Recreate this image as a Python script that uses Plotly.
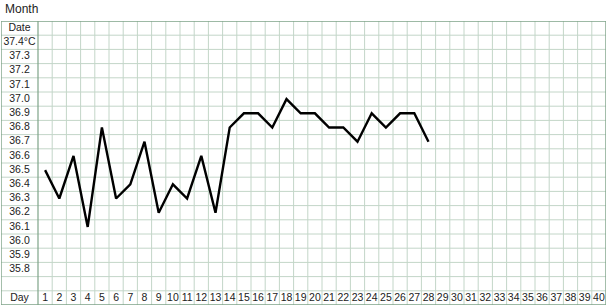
import plotly.graph_objects as go

days = list(range(1, 29))
temps = [36.5, 36.3, 36.6, 36.1, 36.8, 36.3, 36.4, 36.7, 36.2, 36.4,
         36.3, 36.6, 36.2, 36.8, 36.9, 36.9, 36.8, 37.0, 36.9, 36.9,
         36.8, 36.8, 36.7, 36.9, 36.8, 36.9, 36.9, 36.7]
day_labels = [str(d) for d in range(1, 41)]
temp_labels = ["37.4°C", "37.3", "37.2", "37.1", "37.0", "36.9", "36.8", "36.7",
               "36.6", "36.5", "36.4", "36.3", "36.2", "36.1", "36.0", "35.9", "35.8"]

W, H = 607, 306
left_px, top_px, right_px, bottom_px = 1, 21, 606, 305
label_right_px = 38
ncols = 40
col_w = (right_px - label_right_px) / ncols
nrows = 20

x_lo = 0.5 + (left_px - label_right_px) / col_w
x_hi = 40.5
y_hi = 37.55
y_lo = 35.55
row_u = 0.1

light = "#c3d6c8"
dark = "#7ea388"
font = "Liberation Sans, Arial, sans-serif"

shapes = []
for k in range(1, ncols):
    xv = 0.5 + k
    shapes.append(dict(type="line", xref="x", yref="y", x0=xv, x1=xv, y0=y_lo, y1=y_hi,
                       layer="below", line=dict(color=light, width=1)))
for k in range(1, nrows):
    yv = y_hi - k * row_u
    shapes.append(dict(type="line", xref="x", yref="y", x0=x_lo, x1=x_hi, y0=yv, y1=yv,
                       layer="below", line=dict(color=light, width=1)))
shapes.append(dict(type="line", xref="x", yref="y", x0=0.5, x1=0.5, y0=y_lo, y1=y_hi,
                   layer="below", line=dict(color=dark, width=1.2)))
shapes.append(dict(type="rect", xref="x", yref="y", x0=x_lo, x1=x_hi, y0=y_lo, y1=y_hi,
                   layer="below", line=dict(color=dark, width=1.4)))

fig = go.Figure()
fig.add_trace(go.Scatter(x=days, y=temps, mode="lines",
                         line=dict(color="black", width=2.4), hoverinfo="skip",
                         showlegend=False))

label_x = (x_lo + 0.5) / 2
row_labels = ["Date"] + temp_labels + ["", "Day"]
row_centers = [y_hi - (i + 0.5) * row_u for i in range(nrows)]
fig.add_trace(go.Scatter(x=[label_x] * nrows, y=row_centers, mode="text",
                         text=row_labels, textposition="middle center",
                         textfont=dict(family=font, size=10.5, color="#222"),
                         hoverinfo="skip", showlegend=False))
fig.add_trace(go.Scatter(x=list(range(1, 41)), y=[row_centers[-1]] * 40, mode="text",
                         text=day_labels, textposition="middle center",
                         textfont=dict(family=font, size=10.5, color="#222"),
                         hoverinfo="skip", showlegend=False))

fig.update_layout(
    width=W, height=H,
    margin=dict(l=left_px, r=W - right_px, t=top_px, b=H - bottom_px, pad=0),
    plot_bgcolor="white", paper_bgcolor="white",
    xaxis=dict(range=[x_lo, x_hi], visible=False, fixedrange=True),
    yaxis=dict(range=[y_lo, y_hi], visible=False, fixedrange=True),
    shapes=shapes,
    annotations=[dict(text="Month", xref="paper", yref="paper", x=0, y=1,
                      xanchor="left", yanchor="middle", xshift=2, yshift=12,
                      showarrow=False, font=dict(family=font, size=12, color="#222"))],
)

fig.write_html("out.html")
